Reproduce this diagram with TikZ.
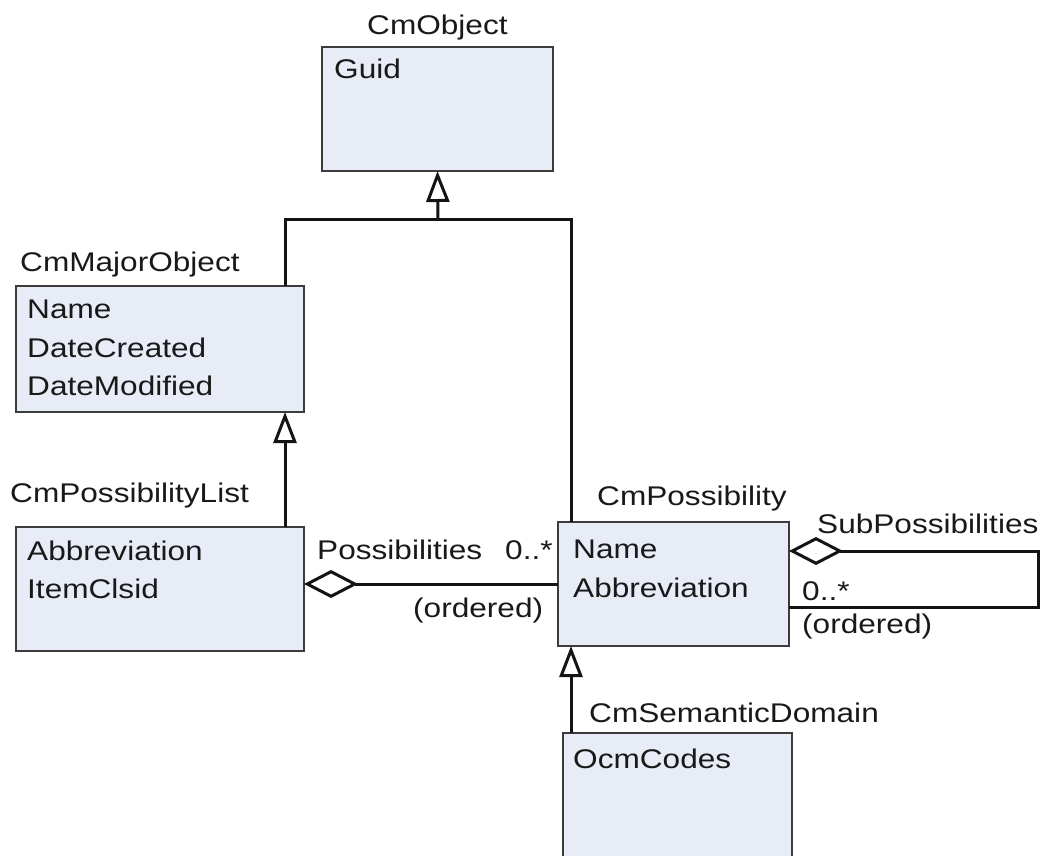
\documentclass[tikz,border=0pt]{standalone}
\usepackage{fontspec}
\setmainfont{Liberation Sans}[FakeStretch=1.17]
\usetikzlibrary{arrows.meta}
\definecolor{boxfill}{RGB}{232,236,246}
\definecolor{boxline}{RGB}{60,60,60}
\definecolor{ink}{RGB}{25,25,25}
\tikzset{
  classbox/.style={draw=boxline, line width=2.2pt, fill=boxfill, inner sep=0pt,
    outer sep=0pt, anchor=north west, rectangle},
  txt/.style={anchor=base west, inner sep=0pt, text=ink,
    font=\fontsize{27}{32}\selectfont},
  wire/.style={line width=3pt, draw=black!92},
  gen/.style={wire, -{Triangle[open, length=31pt, width=23pt, line width=3pt]}},
  agg/.style={wire, {Diamond[open, length=54pt, width=28pt, line width=3pt]}-},
}
\begin{document}
\begin{tikzpicture}[x=1pt, y=-1pt]
\clip (0,0) rectangle (1041,856);
\fill[white] (0,0) rectangle (1041,856);

% class boxes
\node[classbox, minimum width=231pt, minimum height=124pt] (obj) at (322,47) {};
\node[classbox, minimum width=288pt, minimum height=126pt] (major) at (16,286) {};
\node[classbox, minimum width=288pt, minimum height=124pt] (list) at (16,527) {};
\node[classbox, minimum width=231pt, minimum height=124pt] (poss) at (558,522) {};
\node[classbox, minimum width=229pt, minimum height=160pt] (sem) at (563,733) {};

% class names
\node[txt] (objname) at (367,35) {CmObject};
\node[txt] (majorname) at (20,271) {CmMajorObject};
\node[txt] (listname) at (10,502) {CmPossibilityList};
\node[txt] (possname) at (597,505) {CmPossibility};
\node[txt] (semname) at (589,722) {CmSemanticDomain};

% attributes
\node[txt] (objguid) at (334,79) {Guid};
\node[txt] (majname) at (27,318) {Name};
\node[txt] (majcreated) at (27,357) {DateCreated};
\node[txt] (majmodified) at (27,395) {DateModified};
\node[txt] (listabbr) at (27,560) {Abbreviation};
\node[txt] (listclsid) at (27,598) {ItemClsid};
\node[txt] (possnm) at (573,558) {Name};
\node[txt] (possabbr) at (573,597) {Abbreviation};
\node[txt] (semcodes) at (573,768) {OcmCodes};

% routing points
\coordinate (join) at (438,219);
\coordinate (leftrail) at (285,219);
\coordinate (rightrail) at (571,219);
\coordinate (agglevel) at (0,584);
\coordinate (subtop) at (1038,551);
\coordinate (subbot) at (1038,607);

% generalisations
\draw[gen] (join) -- (obj.south);
\draw[wire] (major.north -| leftrail) |- (join);
\draw[wire] (poss.north -| rightrail) |- (join);
\draw[gen] (list.north -| leftrail) -- (major.south -| leftrail);
\draw[gen] (sem.north -| rightrail) -- (poss.south -| rightrail);

% aggregations
\draw[agg] (list.east |- agglevel) -- (poss.west |- agglevel);
\draw[agg] (poss.east |- subtop) -- (subtop) -- (subbot) -- (poss.east |- subbot);

% association labels
\node[txt] (lblposs) at (317,559) {Possibilities};
\node[txt] (lblmult) at (505,559) {0..*};
\node[txt] (lblord) at (413,617) {(ordered)};
\node[txt] (lblsub) at (817,533) {SubPossibilities};
\node[txt] (lblsubmult) at (802,600) {0..*};
\node[txt] (lblsubord) at (802,633) {(ordered)};
\end{tikzpicture}
\end{document}
